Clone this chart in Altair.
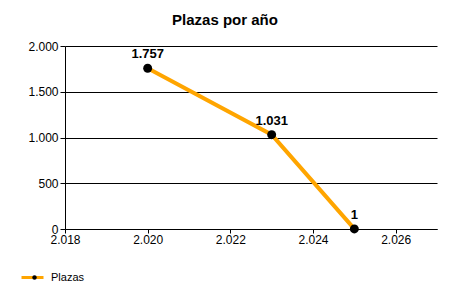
import altair as alt
import pandas as pd

years = [2020, 2023, 2025]
plazas = [1757, 1031, 1]
series = ["Plazas", "Plazas", "Plazas"]

x_ticks = [2018, 2020, 2022, 2024, 2026]
y_ticks = [0, 500, 1000, 1500, 2000]

df = pd.DataFrame({"anio": years, "plazas": plazas, "serie": series})

FONT = "Liberation Sans"
lab_expr = "replace(format(datum.value, ','), ',', '.')"

x = alt.X("anio:Q", scale=alt.Scale(domain=[2018, 2027], nice=False, zero=False),
          axis=alt.Axis(title=None, values=x_ticks, labelExpr=lab_expr, grid=False,
                        domainColor="black", tickColor="black", tickSize=4,
                        labelPadding=1, labelFont=FONT, labelFontSize=12,
                        labelColor="black", labelFlush=False))
y = alt.Y("plazas:Q", scale=alt.Scale(domain=[0, 2000], nice=False),
          axis=alt.Axis(title=None, values=y_ticks, labelExpr=lab_expr, grid=True,
                        gridColor="black", gridOpacity=1, domainColor="black",
                        tickColor="black", tickSize=5, labelPadding=2,
                        labelFont=FONT, labelFontSize=12, labelColor="black"))

base = alt.Chart(df)

line = base.mark_line(strokeWidth=4).encode(
    x=x, y=y,
    color=alt.Color("serie:N", scale=alt.Scale(range=["#FFA500"]),
                    legend=alt.Legend(title=None, orient="none", legendX=-45, legendY=219,
                                      symbolType="stroke", symbolSize=484,
                                      symbolStrokeWidth=3, labelFont=FONT,
                                      labelFontSize=11, labelColor="black",
                                      labelOffset=6)),
)

points = base.mark_point(filled=True, size=80, opacity=1).encode(
    x=x, y=y,
    fill=alt.Fill("serie:N", scale=alt.Scale(range=["black"]),
                  legend=alt.Legend(title=None, orient="none", legendX=-36, legendY=226,
                                    symbolType="circle", symbolSize=20,
                                    symbolStrokeWidth=0, labelFont=FONT,
                                    labelFontSize=11, labelExpr="''",
                                    labelOffset=6)),
)

labels = base.transform_calculate(
    txt=lab_expr.replace("datum.value", "datum.plazas")
).mark_text(fontWeight="bold", fontSize=13, font=FONT, baseline="bottom", dy=-7,
            color="black").encode(x=x, y=y, text="txt:N")

chart = alt.layer(line, points, labels).properties(
    width=372, height=183,
    title=alt.TitleParams("Plazas por año", font=FONT, fontSize=15, fontWeight="bold",
                          color="black", anchor="middle", dx=-26, offset=12),
    autosize=alt.AutoSizeParams(type="none"),
    padding={"left": 65, "top": 46, "right": 13, "bottom": 71},
).configure_view(stroke=None)

chart.save("out.html", embed_options={"renderer": "svg", "actions": False})
